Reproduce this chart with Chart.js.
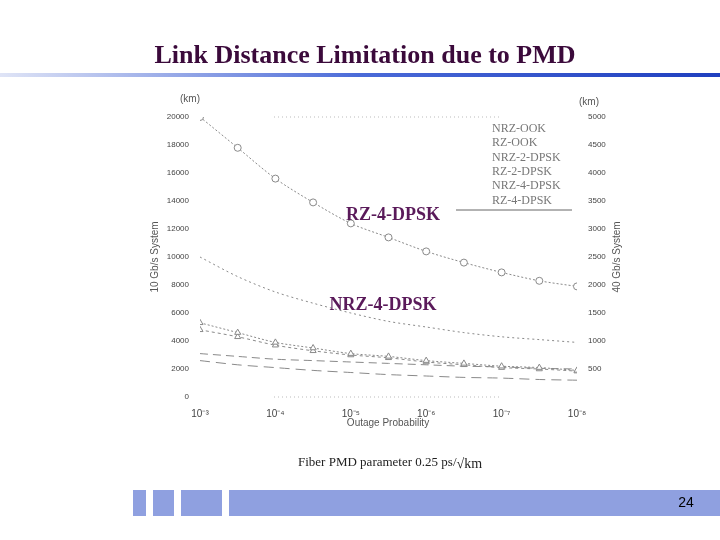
<!DOCTYPE html>
<html><head><meta charset="utf-8">
<script src="https://cdn.jsdelivr.net/npm/chart.js@4"></script>
<style>html,body{margin:0;padding:0;background:#fff}#w{width:720px;height:540px;position:relative}</style>
</head><body><div id="w"><canvas id="c"></canvas></div>
<script>
const xLog = [-3,-3.5,-4,-4.5,-5,-5.5,-6,-6.5,-7,-7.5,-8];
const rz4dpsk = [20000,17800,15600,13900,12400,11400,10400,9600,8900,8300,7900];
const nrz4dpsk = [10000,8600,7500,6700,6000,5400,5000,4600,4300,4100,3900];
const rz2dpsk = [5300,4600,3900,3500,3100,2900,2600,2400,2200,2100,1900];
const rzook = [4800,4300,3700,3300,3000,2800,2500,2300,2100,2000,1850];
const nrz2dpsk = [3100,2900,2700,2600,2500,2400,2300,2200,2150,2050,2000];
const nrzook = [2600,2300,2100,1900,1750,1600,1500,1400,1350,1250,1200];
const leftTicks = [0,2000,4000,6000,8000,10000,12000,14000,16000,18000,20000];
const rightTicks = [500,1000,1500,2000,2500,3000,3500,4000,4500,5000];
const legendNames = ['NRZ-OOK','RZ-OOK','NRZ-2-DPSK','RZ-2-DPSK','NRZ-4-DPSK','RZ-4-DPSK'];
const sup = {'-':'⁻','0':'⁰','1':'¹','2':'²','3':'³','4':'⁴','5':'⁵','6':'⁶','7':'⁷','8':'⁸','9':'⁹'};
const pts = a => a.map((v,i)=>({x:xLog[i],y:v}));
const g = '#8a8a8a';
function ds(label,data,style,dash,axis){return {label,data:pts(data),borderColor:g,backgroundColor:'#fff',borderWidth:1,borderDash:dash,pointStyle:style,pointRadius:style?3.5:0,tension:0.3};}
const slide = {id:'slide',
 beforeDraw(c){const x=c.ctx;x.save();x.fillStyle='#fff';x.fillRect(0,0,720,540);
  const gr=x.createLinearGradient(0,0,720,0);gr.addColorStop(0,'#dfe4f6');gr.addColorStop(0.5,'#4a6ad8');gr.addColorStop(1,'#1f3fbf');
  x.fillStyle=gr;x.fillRect(0,73,720,4);
  x.fillStyle='#8fa0e0';[[133,13],[153,21],[181,41],[229,491]].forEach(r=>x.fillRect(r[0],490,r[1],26));
  x.restore();},
 afterDraw(c){const x=c.ctx;x.save();
  x.fillStyle='#3b0a3b';x.font='bold 26px "Liberation Serif"';x.textAlign='center';x.textBaseline='middle';
  x.fillText('Link Distance Limitation due to PMD',365,56);
  x.fillStyle='#5a1a5a';x.font='bold 18px "Liberation Serif"';
  x.fillText('RZ-4-DPSK',393,215);x.fillText('NRZ-4-DPSK',383,305);
  x.fillStyle='#222';x.font='13px "Liberation Serif"';x.textAlign='left';
  const cap='Fiber PMD parameter 0.25 ps/';x.fillText(cap,298,463);
  const w=x.measureText(cap).width;
  x.font='14px "Liberation Serif"';x.fillText('√km',298+w,464);
  x.fillStyle='#000';x.font='14px "Liberation Sans"';x.textAlign='center';x.fillText('24',686,503);
  x.fillStyle='#555';x.font='10px "Liberation Sans"';x.fillText('(km)',190,99);x.fillText('(km)',589,102);
  x.fillText('Outage Probability',388,423);
  x.save();x.translate(155,257);x.rotate(-Math.PI/2);x.fillText('10 Gb/s System',0,0);x.restore();
  x.save();x.translate(617,257);x.rotate(-Math.PI/2);x.fillText('40 Gb/s System',0,0);x.restore();
  x.font='12px "Liberation Serif"';x.textAlign='left';x.fillStyle='#777';
  legendNames.forEach((n,i)=>x.fillText(n,492,129+i*14.3));
  x.strokeStyle='#666';x.lineWidth=1;x.beginPath();x.moveTo(456,210);x.lineTo(572,210);x.stroke();
  x.strokeStyle='#bbb';x.setLineDash([1,3]);x.beginPath();x.moveTo(274,117);x.lineTo(500,117);x.moveTo(274,397);x.lineTo(500,397);x.stroke();
  x.restore();}};
new Chart(document.getElementById('c'),{type:'line',
 data:{datasets:[ds('RZ-4-DPSK',rz4dpsk,'circle',[2,2]),ds('NRZ-4-DPSK',nrz4dpsk,false,[2,3]),
  ds('RZ-2-DPSK',rz2dpsk,'triangle',[2,2]),ds('RZ-OOK',rzook,'triangle',[3,3]),
  ds('NRZ-2-DPSK',nrz2dpsk,false,[8,5]),ds('NRZ-OOK',nrzook,false,[10,6])]},
 options:{responsive:true,maintainAspectRatio:false,animation:false,
  layout:{padding:{left:155,right:93,top:117,bottom:103}},
  plugins:{legend:{display:false},tooltip:{enabled:false}},
  scales:{
   x:{type:'linear',min:-8,max:-3,reverse:true,grid:{display:false},border:{display:false},
    afterBuildTicks(a){a.ticks=xLog.filter(v=>Number.isInteger(v)).map(v=>({value:v}));},
    afterFit(a){a.height=40;},
    ticks:{color:'#444',font:{size:10},maxRotation:0,callback:v=>'10'+String(v).split('').map(ch=>sup[ch]).join('')}},
   y:{min:0,max:20000,grid:{display:false},border:{display:false},afterFit(a){a.width=45;},
    afterBuildTicks(a){a.ticks=leftTicks.map(v=>({value:v}));},
    ticks:{color:'#444',font:{size:8},callback:v=>String(v)}},
   y2:{position:'right',min:0,max:5000,grid:{display:false},border:{display:false},afterFit(a){a.width=50;},
    afterBuildTicks(a){a.ticks=rightTicks.map(v=>({value:v}));},
    ticks:{color:'#444',font:{size:8},callback:v=>String(v)}}}},
 plugins:[slide]});
</script></body></html>
